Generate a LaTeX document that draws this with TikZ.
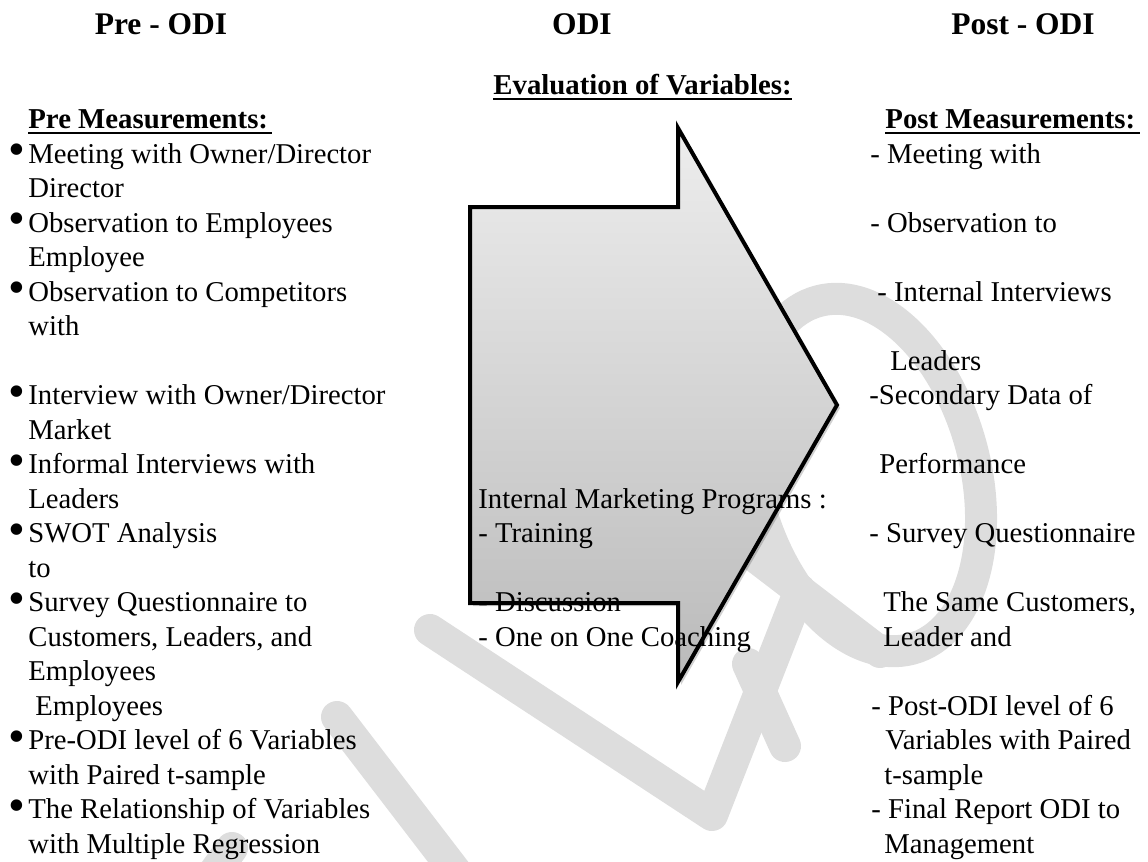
\documentclass[tikz,border=0pt]{standalone}
\usepackage{fontspec}
\setmainfont{Liberation Serif}
\definecolor{wmgray}{HTML}{DDDDDD}
\begin{document}
\begin{tikzpicture}[x=0.5pt,y=-0.5pt,
  txt/.style={anchor=base west, inner sep=0pt, font=\fontsize{14.35}{17}\selectfont},
  bul/.style={anchor=center, inner sep=0pt, font=\fontsize{24}{24}\selectfont},
  hdr/.style={anchor=base, inner sep=0pt, font=\fontsize{15.75}{19}\selectfont\bfseries},
  sub/.style={anchor=base west, inner sep=0pt, font=\fontsize{14.4}{17}\selectfont\bfseries},
  uline/.style={line width=1pt},
  wm/.style={draw=wmgray, line width=16pt, line cap=round, line join=round},
  arrowfill/.style={top color=black!7, bottom color=black!27, draw=none},
  arrowshadow/.style={fill=black, opacity=0.18, draw=none},
  arrowline/.style={draw=black, line width=2pt, line join=miter},
]
\useasboundingbox (0,0) rectangle (1148,862);

% watermark
\begin{scope}
\clip (0,0) rectangle (1148,862);
\draw[wm] (205,885) -- (232,848);
\draw[wm] (337,717) -- (462,880);
\draw[wm] (430,630) -- (712,815) -- (800,590);
\draw[wm] (748,664) -- (785,746);
\draw[wm, rotate around={15:(865,475)}] (865,475) ellipse [x radius=110, y radius=180];
\draw[wm] (740,545) -- (880,652);
\end{scope}

% arrow shadow and fill
\fill[arrowshadow] (473,210) -- (681,210) -- (681,131) -- (840,408) -- (681,685) -- (681,606) -- (473,606) -- cycle;
\path[arrowfill] (470,207) -- (678,207) -- (678,128) -- (837,405) -- (678,682) -- (678,603) -- (470,603) -- cycle;

% column headers
\node[hdr] (hpre) at (161,34) {Pre - ODI};
\node[hdr] (hodi) at (582,34) {ODI};
\node[hdr] (hpost) at (1023,34) {Post - ODI};

% sub headers
\node[sub] (pm) at (28,128) {Pre Measurements:};
\draw[uline] ([yshift=-2.5pt]pm.base west) -- ([yshift=-2.5pt,xshift=2pt]pm.base east);
\node[sub] (ev) at (493,94) {Evaluation of Variables:};
\draw[uline] ([yshift=-2.5pt]ev.base west) -- ([yshift=-2.5pt]ev.base east);
\node[sub] (po) at (885,128) {Post Measurements:};
\draw[uline] ([yshift=-2.5pt]po.base west) -- ([yshift=-2.5pt,xshift=2pt]po.base east);

% left column
\node[bul] (b0) at (17,155) {\textbullet};
\node[txt] (l0) at (28,163) {Meeting with Owner/Director};
\node[txt] (l1) at (28,197.5) {Director};
\node[bul] (b2) at (17,224) {\textbullet};
\node[txt] (l2) at (28,232) {Observation to Employees};
\node[txt] (l3) at (28,266.5) {Employee};
\node[bul] (b4) at (17,293) {\textbullet};
\node[txt] (l4) at (28,301) {Observation to Competitors};
\node[txt] (l5) at (28,335.5) {with};
\node[bul] (b7) at (17,396.5) {\textbullet};
\node[txt] (l7) at (28,404.5) {Interview with Owner/Director};
\node[txt] (l8) at (28,439) {Market};
\node[bul] (b9) at (17,465.5) {\textbullet};
\node[txt] (l9) at (28,473.5) {Informal Interviews with};
\node[txt] (l10) at (28,508) {Leaders};
\node[bul] (b11) at (17,534.5) {\textbullet};
\node[txt] (l11) at (28,542.5) {SWOT Analysis};
\node[txt] (l12) at (28,577) {to};
\node[bul] (b13) at (17,603.5) {\textbullet};
\node[txt] (l13) at (28,611.5) {Survey Questionnaire to};
\node[txt] (l14) at (28,646) {Customers, Leaders, and};
\node[txt] (l15) at (28,680.5) {Employees};
\node[txt] (l16) at (35,715) {Employees};
\node[bul] (b17) at (17,741.5) {\textbullet};
\node[txt] (l17) at (28,749.5) {Pre-ODI level of 6 Variables};
\node[txt] (l18) at (28,784) {with Paired t-sample};
\node[bul] (b19) at (17,810.5) {\textbullet};
\node[txt] (l19) at (28,818.5) {The Relationship of Variables};
\node[txt] (l20) at (28,853) {with Multiple Regression};

% middle
\node[txt] (m0) at (478,508) {Internal Marketing Programs :};
\node[txt] (m1) at (478,542.5) {- Training};
\node[txt] (m2) at (478,611.5) {- Discussion};
\node[txt] (m3) at (478,646) {- One on One Coaching};

% right column
\node[txt] (r0) at (870,163) {- Meeting with};
\node[txt] (r2) at (870,232) {- Observation to};
\node[txt] (r4) at (877,301) {- Internal Interviews};
\node[txt] (r6) at (890,370) {Leaders};
\node[txt] (r7) at (869,404.5) {-Secondary Data of};
\node[txt] (r9) at (879,473.5) {Performance};
\node[txt] (r11) at (869,542.5) {- Survey Questionnaire};
\node[txt] (r13) at (883,611.5) {The Same Customers,};
\node[txt] (r14) at (883,646) {Leader and};
\node[txt] (r16) at (871,715) {- Post-ODI level of 6};
\node[txt] (r17) at (885,749.5) {Variables with Paired};
\node[txt] (r18) at (884,784) {t-sample};
\node[txt] (r19) at (871,818.5) {- Final Report ODI to};
\node[txt] (r20) at (884,853) {Management};

% arrow outline on top
\draw[arrowline] (470,207) -- (678,207) -- (678,128) -- (837,405) -- (678,682) -- (678,603) -- (470,603) -- cycle;
\end{tikzpicture}
\end{document}
